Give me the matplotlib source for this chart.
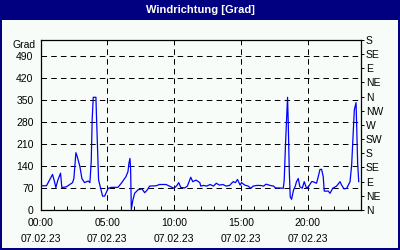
import matplotlib
matplotlib.use('Agg')
import matplotlib.pyplot as plt
from matplotlib.patches import Rectangle

plt.rcParams['lines.scale_dashes'] = False

# ---- data ----
hours = [0.0, 0.45, 0.9, 1.05, 1.15, 1.3, 1.5, 1.6, 1.95, 2.4, 2.5, 2.65, 2.75, 2.95,
         3.1, 3.3, 3.57, 3.7, 3.8, 3.87, 3.95, 4.15, 4.2, 4.35, 4.5, 4.65, 4.8, 5.07,
         5.3, 5.8, 6.05, 6.3, 6.4, 6.55, 6.62, 6.7, 6.75, 6.8, 6.92, 7.05, 7.3, 7.6,
         7.8, 8.0, 8.17, 8.67, 8.9, 9.4, 9.75, 10.0, 10.2, 10.35, 10.5, 10.8, 11.0,
         11.25, 11.4, 11.65, 11.93, 12.0, 12.2, 12.45, 12.7, 12.95, 13.17, 13.4, 13.65,
         13.9, 14.15, 14.43, 14.6, 14.75, 14.85, 14.95, 15.05, 15.3, 15.55, 15.75,
         15.93, 16.2, 16.45, 16.7, 16.9, 17.2, 17.45, 17.6, 17.9, 18.18, 18.25, 18.35,
         18.42, 18.5, 18.55, 18.63, 18.7, 18.8, 18.95, 19.08, 19.17, 19.3, 19.42, 19.6,
         19.75, 19.92, 20.1, 20.3, 20.4, 20.67, 20.8, 20.93, 21.05, 21.17, 21.25, 21.55,
         21.68, 21.88, 22.17, 22.43, 22.55, 22.73, 22.93, 23.18, 23.3, 23.43, 23.5,
         23.63, 23.75, 23.83]
direction = [77, 77, 113, 90, 71, 95, 117, 71, 74, 87, 100, 182, 170, 138,
             100, 87, 92, 87, 155, 288, 358, 358, 288, 95, 69, 44, 44, 69,
             72, 72, 85, 100, 106, 122, 148, 164, 127, 2, 32, 53, 64, 67,
             55, 64, 76, 77, 81, 81, 74, 69, 77, 87, 72, 70, 76,
             104, 90, 95, 87, 76, 78, 76, 81, 76, 85, 79, 81,
             76, 78, 90, 87, 97, 88, 79, 87, 79, 76, 69,
             76, 78, 78, 76, 82, 78, 76, 70, 70, 69, 95, 212,
             281, 358, 281, 122, 42, 34, 64, 76, 90, 100, 74, 69,
             90, 69, 76, 90, 90, 85, 106, 129, 129, 106, 60, 60,
             53, 69, 76, 90, 79, 67, 69, 90, 143, 254, 318,
             341, 148, 90]

left_ticks = [0, 70, 140, 210, 280, 350, 420, 490]
right_ticks = [0, 45, 90, 135, 180, 225, 270, 315, 360, 405, 450, 495, 540]
right_labels = ['N', 'NE', 'E', 'SE', 'S', 'SW', 'W', 'NW', 'N', 'NE', 'E', 'SE', 'S']
x_major = [0, 5, 10, 15, 20]
x_labels = ['00:00\n07.02.23', '05:00\n07.02.23', '10:00\n07.02.23',
            '15:00\n07.02.23', '20:00\n07.02.23']
x_minor = list(range(0, 25))
title = 'Windrichtung [Grad]'
unit = 'Grad'

# ---- layout ----
W, H = 400, 250
BG = '#F8FCF8'
NAVY = '#000080'
FONT = ['Liberation Sans Narrow', 'Liberation Sans', 'DejaVu Sans']
FS = 7.5

fig = plt.figure(figsize=(W / 100, H / 100), dpi=100)
fig.patch.set_facecolor(BG)

# title bar and border
fig.patches.append(Rectangle((0, 1 - 20 / H), 1, 20 / H, transform=fig.transFigure,
                             facecolor=NAVY, edgecolor='none', zorder=0))
for r in [(0, 0, 2 / W, 1), (1 - 2 / W, 0, 2 / W, 1), (0, 0, 1, 2 / H)]:
    fig.patches.append(Rectangle(r[:2], r[2], r[3], transform=fig.transFigure,
                                 facecolor=NAVY, edgecolor='none', zorder=0))
fig.text(0.5, 1 - 10 / H, title, color='white', fontweight='bold', ha='center',
         va='center', fontsize=8, family=FONT)

ax = fig.add_axes([40.5 / W, 40 / H, 320.5 / W, 170 / H])
ax.set_facecolor(BG)
ax.plot(hours, direction, color='#0000FF', lw=0.9, zorder=3)
ax.set_xlim(0, 24)
ax.set_ylim(0, 540)

ax.set_yticks(left_ticks)
ax.set_yticklabels([str(v) for v in left_ticks], family=FONT, fontsize=FS)
ax.tick_params(axis='y', length=0, pad=5)
ax.set_xticks(x_major)
ax.set_xticklabels(x_labels, family=FONT, fontsize=FS, linespacing=1.65)
ax.set_xticks(x_minor, minor=True)
ax.tick_params(axis='x', which='both', direction='in', length=3, width=0.72, pad=6)
ax.grid(True, which='major', color='black', linestyle=(0, (4, 3)), lw=0.72)
for s in ax.spines.values():
    s.set_linewidth(0.9)
    s.set_color('black')

ax.text(-5 / 320.5 * 1.0, 525, unit, transform=ax.get_yaxis_transform(),
        ha='right', va='center', family=FONT, fontsize=FS)

ax2 = ax.twinx()
ax2.set_ylim(0, 540)
ax2.set_yticks(right_ticks)
ax2.set_yticklabels(right_labels, family=FONT, fontsize=FS)
ax2.tick_params(axis='y', direction='out', length=2.5, width=0.72, pad=1)
for s in ax2.spines.values():
    s.set_visible(False)

fig.savefig('out.png', dpi=100, facecolor=BG)
